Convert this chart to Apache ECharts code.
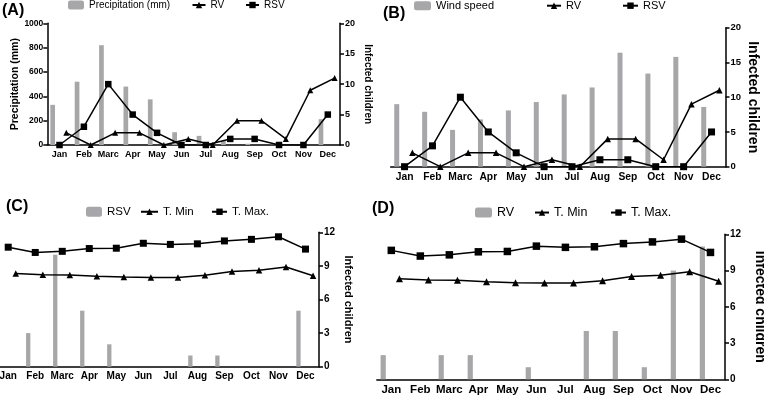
<!DOCTYPE html>
<html><head><meta charset="utf-8">
<script src="https://cdn.jsdelivr.net/npm/echarts@6/dist/echarts.min.js"></script>
<style>html,body{margin:0;padding:0;background:#fff}#c{width:764px;height:404px}</style>
</head><body><div id="c"></div>
<script>
// ---- data ----
const months = ['Jan','Feb','Marc','Apr','May','Jun','Jul','Aug','Sep','Oct','Nov','Dec'];
const precipitationMm = [330, 520, 820, 480, 375, 105, 75, 32, 10, 2, 0, 212];
const windSpeed = [9.0, 7.9, 5.3, 6.8, 8.1, 9.3, 10.4, 11.4, 16.4, 13.4, 15.8, 8.6];
const rvCases = [2, 0, 2, 2, 0, 1, 0, 4, 4, 1, 9, 11];
const rsvCases = [0, 3, 10, 5, 2, 0, 0, 1, 1, 0, 0, 5];
const tempMin = [8.32, 8.22, 8.19, 8.08, 8.0, 7.97, 7.97, 8.16, 8.5, 8.62, 8.9, 8.12];
const tempMax = [10.67, 10.2, 10.3, 10.55, 10.58, 11.02, 10.92, 10.97, 11.23, 11.37, 11.6, 10.5];
const precipTicks = [0, 1000, 200];      // min, max, step
const infectedTicksAB = [0, 20, 5];
const infectedTicksCD = [0, 12, 3];
const panelLabels = ['(A)', '(B)', '(C)', '(D)'];

// ---- layout/style ----
const F = "'Liberation Sans', Arial, Helvetica, sans-serif";
const BAR = '#a7a7aa';
const grids = [
  {left: 47.3, top: 23.3, width: 292.7, height: 121.7},
  {left: 390.6, top: 27.7, width: 334.9, height: 139},
  {left: -5.3, top: 232.3, width: 324.3, height: 134.4},
  {left: 376.8, top: 234.3, width: 348.2, height: 145}
].map(g => Object.assign({outerBoundsMode: 'none', containLabel: false}, g));

const xAxes = [], yAxes = [], series = [], legends = [];
const pts = arr => arr.map((v, i) => [i, v]);

function addX(g, fs, barShift, lineShift) {
  const base = xAxes.length;
  xAxes.push({
    type: 'category', gridIndex: g, data: months, boundaryGap: true,
    axisLine: {onZero: false, lineStyle: {color: '#000', width: 1.5}},
    axisTick: {alignWithLabel: true, length: 4, lineStyle: {color: '#000', width: 1.5}},
    axisLabel: {color: '#000', fontWeight: 'bold', fontSize: fs, fontFamily: F, margin: 5, interval: 0},
    splitLine: {show: false}
  });
  [barShift, 0, lineShift].forEach(s => xAxes.push({
    type: 'value', gridIndex: g, show: false, min: -0.5 - s, max: 11.5 - s,
    axisLine: {onZero: false}
  }));
  return base; // base+1 bar, base+2 centre, base+3 right
}
function addY(g, pos, ticks, fs, name, nameGap, nameFs, show) {
  yAxes.push({
    type: 'value', gridIndex: g, position: pos, show: show !== false,
    min: ticks[0], max: ticks[1], interval: ticks[2],
    axisLine: {show: true, onZero: false, lineStyle: {color: '#000', width: 1.5}},
    axisTick: {show: true, length: 4, lineStyle: {color: '#000', width: 1.5}},
    axisLabel: {color: '#000', fontWeight: 'bold', fontSize: fs, fontFamily: F,
      margin: pos === 'left' ? 4 : 5, formatter: v => String(v)},
    splitLine: {show: false},
    name: name, nameLocation: 'middle', nameGap: nameGap,
    nameRotate: pos === 'left' ? 90 : -90,
    nameTextStyle: {color: '#000', fontWeight: 'bold', fontSize: nameFs, fontFamily: F}
  });
  return yAxes.length - 1;
}
function bar(name, xi, yi, data, w) {
  series.push({name, type: 'bar', xAxisIndex: xi, yAxisIndex: yi, data: pts(data),
    barWidth: w, itemStyle: {color: BAR}, z: 1, silent: true});
}
function line(name, xi, yi, data, sym, size) {
  series.push({name, type: 'line', xAxisIndex: xi, yAxisIndex: yi, data: pts(data),
    symbol: sym, symbolSize: size, showSymbol: true,
    lineStyle: {color: '#000', width: 1.5}, itemStyle: {color: '#000'}, z: 3, silent: true, animation: false});
}
function leg(name, left, cy, w, h, fs) {
  const hh = Math.max(h, fs);
  legends.push({
    data: [name], left, top: cy - hh / 2, padding: 0, itemWidth: w, itemHeight: h,
    selectedMode: false, formatter: n => n.split('|')[0],
    textStyle: {color: '#000', fontSize: fs, fontFamily: F}
  });
}

// Panel A
let b = addX(0, 9, -0.28, 0.28);
let yl = addY(0, 'left', precipTicks, 8.5, 'Precipitation (mm)', 27, 10.5);
let yr = addY(0, 'right', infectedTicksAB, 9, 'Infected children', 23, 10);
bar('Precipitation (mm)|A', b + 1, yl, precipitationMm, 4.7);
line('RV|A', b + 3, yr, rvCases, 'triangle', 6);
line('RSV|A', b + 2, yr, rsvCases, 'rect', 6.5);
leg('Precipitation (mm)|A', 68, 5, 16, 9, 10);
leg('RV|A', 191.5, 5, 13, 8, 10);
leg('RSV|A', 245, 5, 13, 8, 10);

// Panel B
b = addX(1, 10.3, -0.28, 0.28);
yl = addY(1, 'left', infectedTicksAB, 10, '', 0, 10, false);
yr = addY(1, 'right', infectedTicksAB, 9.5, 'Infected children', 20, 14);
bar('Wind speed|B', b + 1, yl, windSpeed, 5);
line('RV|B', b + 3, yr, rvCases, 'triangle', 6.5);
line('RSV|B', b + 2, yr, rsvCases, 'rect', 7);
leg('Wind speed|B', 414, 5.7, 17, 9, 11);
leg('RV|B', 546, 5.7, 14, 8, 11);
leg('RSV|B', 622, 5.7, 15, 8, 11);

// Panel C
b = addX(2, 10, -0.26, 0.28);
yr = addY(2, 'right', infectedTicksCD, 10, 'Infected children', 24, 11);
bar('RSV|C', b + 1, yr, rsvCases, 4.3);
line('T. Min|C', b + 3, yr, tempMin, 'triangle', 6.5);
line('T. Max.|C', b + 2, yr, tempMax, 'rect', 7);
leg('RSV|C', 86, 211.5, 16, 10, 11.5);
leg('T. Min|C', 140, 211.5, 17, 8, 11.5);
leg('T. Max.|C', 211, 211.5, 15, 8, 11.5);

// Panel D
b = addX(3, 11.5, -0.28, 0.28);
yr = addY(3, 'right', infectedTicksCD, 10, 'Infected children', 28, 14);
bar('RV|D', b + 1, yr, rvCases, 5.2);
line('T. Min|D', b + 3, yr, tempMin, 'triangle', 7);
line('T. Max.|D', b + 2, yr, tempMax, 'rect', 7.5);
leg('RV|D', 475, 212.3, 17, 10, 12.5);
leg('T. Min|D', 534, 212.3, 14, 8, 12.5);
leg('T. Max.|D', 610, 212.3, 15, 8, 12.5);

const labelPos = [[2, 11], [383, 14], [6, 207], [372, 209]];
const graphics = panelLabels.map((t, i) => ({
  type: 'text', left: labelPos[i][0], top: labelPos[i][1] - 8,
  style: {text: t, fill: '#000', fontSize: 16, fontWeight: 'bold', fontFamily: F}
}));

const chart = echarts.init(document.getElementById('c'), null, {renderer: 'canvas'});
chart.setOption({
  animation: false,
  backgroundColor: '#fff',
  grid: grids, xAxis: xAxes, yAxis: yAxes, series, legend: legends, graphic: graphics
});
</script></body></html>
